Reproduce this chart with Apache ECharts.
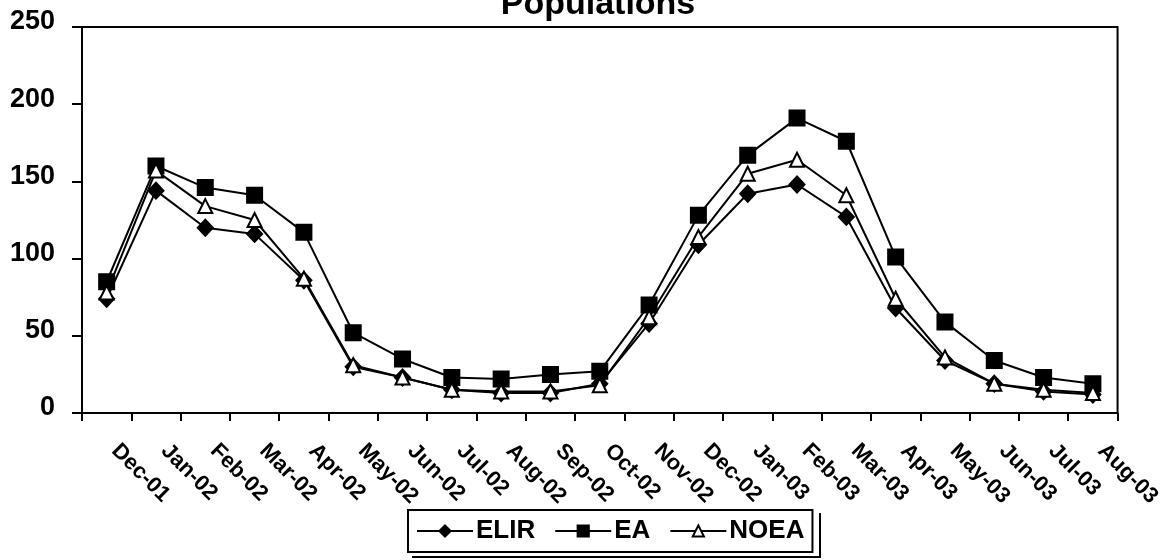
<!DOCTYPE html>
<html>
<head>
<meta charset="utf-8">
<script src="https://cdn.jsdelivr.net/npm/echarts@6/dist/echarts.min.js"></script>
<style>
  html, body { margin: 0; padding: 0; background: #fff; }
  #chart { width: 1164px; height: 560px; }
</style>
</head>
<body>
<div id="chart"></div>
<script>
// Monthly population counts for three sites
const months = ['Dec-01', 'Jan-02', 'Feb-02', 'Mar-02', 'Apr-02', 'May-02', 'Jun-02',
  'Jul-02', 'Aug-02', 'Sep-02', 'Oct-02', 'Nov-02', 'Dec-02', 'Jan-03', 'Feb-03',
  'Mar-03', 'Apr-03', 'May-03', 'Jun-03', 'Jul-03', 'Aug-03'];
const elir = [74, 144, 120, 116, 86, 30, 23, 15, 13, 13, 19, 58, 109, 142, 148, 127, 68, 34, 19, 14, 12];
const ea   = [85, 160, 146, 141, 117, 52, 35, 23, 22, 25, 27, 70, 128, 167, 191, 176, 101, 59, 34, 23, 19];
const noea = [78, 157, 134, 125, 87, 31, 23, 15, 14, 14, 18, 62, 114, 155, 164, 141, 74, 36, 19, 15, 13];

const FONT = '"Liberation Sans", Arial, sans-serif';
const chart = echarts.init(document.getElementById('chart'), null, { renderer: 'canvas' });

function lineSeries(name, data, symbol, size, fill) {
  return {
    name: name,
    type: 'line',
    data: data,
    symbol: symbol,
    symbolSize: size,
    showAllSymbol: true,
    animation: false,
    lineStyle: { color: '#000', width: 2 },
    itemStyle: { color: fill, borderColor: '#000', borderWidth: 2 },
    emphasis: { disabled: true }
  };
}

chart.setOption({
  backgroundColor: '#fff',
  animation: false,
  title: {
    text: 'Populations',
    left: 593,
    textAlign: 'center',
    top: -17,
    textStyle: { fontFamily: FONT, fontWeight: 'bold', fontSize: 34, color: '#000' }
  },
  grid: {
    left: 82, right: 46, top: 27, bottom: 147,
    show: true, borderColor: '#000', borderWidth: 2, backgroundColor: 'transparent'
  },
  legend: {
    data: ['ELIR', 'EA', 'NOEA'],
    left: 408, top: 510,
    padding: [8, 8, 8, 8],
    borderColor: '#000', borderWidth: 2, backgroundColor: '#fff',
    itemGap: 19, itemWidth: 56, itemHeight: 14,
    textStyle: { fontFamily: FONT, fontWeight: 'bold', fontSize: 26, color: '#000', padding: [0, 0, 0, -2] }
  },
  xAxis: {
    type: 'category',
    data: months,
    boundaryGap: true,
    axisLine: { lineStyle: { color: '#000', width: 2 } },
    axisTick: { show: true, length: 8, inside: false, lineStyle: { color: '#000', width: 2 } },
    axisLabel: {
      rotate: -45, interval: 0, margin: 26,
      padding: [0, 0, 0, 12],
      fontFamily: FONT, fontWeight: 'bold', fontSize: 22, color: '#000'
    },
    splitLine: { show: false }
  },
  yAxis: {
    type: 'value',
    min: 0, max: 250, interval: 50,
    axisLine: { show: true, lineStyle: { color: '#000', width: 2 } },
    axisTick: { show: true, length: 10, inside: false, lineStyle: { color: '#000', width: 2 } },
    axisLabel: {
      margin: 27, verticalAlign: 'bottom', lineHeight: 10,
      fontFamily: FONT, fontWeight: 'bold', fontSize: 27, color: '#000'
    },
    splitLine: { show: false }
  },
  series: [
    lineSeries('ELIR', elir, 'diamond', [15, 16], '#000'),
    lineSeries('EA', ea, 'rect', 15, '#000'),
    lineSeries('NOEA', noea, 'triangle', 14, '#fff')
  ],
  graphic: [
    {
      type: 'polyline',
      silent: true,
      z: 0,
      shape: { points: [[820, 513], [820, 557], [412, 557]] },
      style: { stroke: '#000', lineWidth: 2, fill: null }
    }
  ]
});
</script>
</body>
</html>
